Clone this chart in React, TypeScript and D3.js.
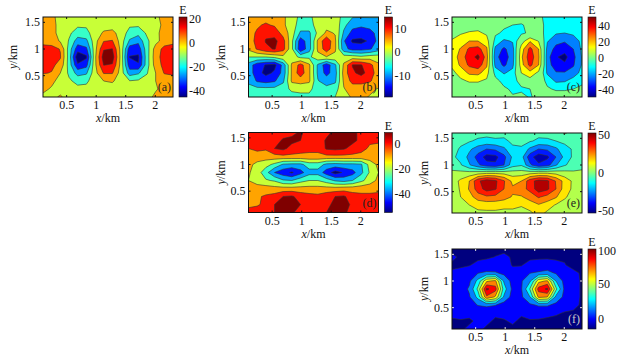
import React from 'react';
import * as d3 from 'd3';

// columns run x = 0.1 .. 2.3 km, rows run y = 1.6 .. 0.1 km (top row first)
const xTicks = [0.5, 1, 1.5, 2];
const yTicks = [0.5, 1, 1.5];

const gridA = [
  [0, -1, -6, -7, -7, -7, -7, -7, -7, -7, -7, -7, -7, -5, 0, 1],
  [1, 0, -6, -8, -10, -10, -7, -6, -6, -7, -10, -10, -8, -6, -1, 1],
  [2, 0, -6, -10, -15, -14, -7, -2, -1, -6, -15, -17, -10, -5, 0, 2],
  [3, 2, -4, -12, -24, -22, -6, 5, 6, -7, -21, -26, -13, -6, 1, 3],
  [8, 8, 5, -15, -33, -30, -6, 13, 14, -6, -33, -33, -15, 1, 8, 9],
  [9, 9, 6, -15, -43, -38, -5, 18, 18, -6, -37, -38, -15, 2, 9, 10],
  [8, 7, 3, -15, -35, -31, -5, 14, 13, -6, -33, -36, -15, 1, 8, 9],
  [6, 5, -3, -13, -23, -21, -6, 6, 6, -7, -24, -21, -12, -3, 6, 7],
  [0, -1, -6, -10, -14, -13, -7, -3, -2, -7, -11, -10, -8, -3, 0, 1],
  [-1, -4, -6, -8, -9, -9, -8, -7, -7, -7, -8, -8, -7, -4, 0, 1],
  [-5, -5, -2, -6, -7, -7, -7, -7, -7, -7, -7, -7, -6, -1, 0, 1],
];
const gridB = [
  [5, 5, 5, 5, 3, 0, -3, -3, 0, 1, 1, -4, -6, -6, -6, -6],
  [5, 6, 7, 6, 3, 0, -4, -4, 0, 1, 1, -5, -9, -10, -9, -9],
  [5, 7, 10, 9, 5, 0, -7, -7, -1, 3, 2, -7, -12, -12, -12, -9],
  [4, 8, 11, 12, 8, -1, -13, -8, 3, 10, 3, -10, -15.5, -16, -14, -9],
  [3, 7, 10, 11, 8, -1, -14, -8, 3, 9, 3, -9, -12, -12, -11, -8],
  [-2, -2, -2, -1, 1, 0, -3, -3, 1, 2, 1, 0, 0, -1, 0, 0],
  [-8, -13, -15, -16, -9, 3, 8, 3, -7, -13, -7, 3, 11, 11, 8, 3],
  [-8, -13, -16, -14, -9, 3, 9, 3, -7, -12, -8, 4, 10, 12, 9, 4],
  [-7, -11, -12, -11, -7, 3, 4, 3, -6, -8, -7, 3, 8, 8, 7, 4],
  [-5, -5, -5, -5, -4, -1, -1, -1, -4, -5, -4, 2, 4, 4, 3, 2],
  [-4, -4, -3, -4, -4, -4, -3, -3, -3, -3, -2, 0, 3, 3, 2, 1],
];
const gridC = [
  [2, 2, 2, 2, 0, -4, -4, -4, -2, -3, -5, -12, -12, -12, -12, -12],
  [2, 3, 4, 4, 1, -3, -6, -8, -9, -5, -4, -11, -12, -14, -13, -10],
  [5, 8, 10, 11, 7, -6, -10, -10, -10, -6, -3, -12, -18, -19, -16, -12],
  [10, 14, 20, 20, 14, -12, -21, -18, 3, 19, 8, -18, -26, -28, -27, -15],
  [13, 21, 32, 34, 22, -22, -31, -23, 15, 33, 20, -23, -32, -35, -29, -17],
  [14, 24, 36, 44, 25, -26, -34, -24, 18, 36, 22, -25, -38, -42, -32, -18],
  [11, 22, 32, 36, 22, -22, -31, -22, 16, 33, 20, -24, -35, -37, -30, -18],
  [6, 13, 22, 23, 14, -12, -20, -15, 9, 16, 6, -21, -28, -28, -25, -15],
  [4, 7, 10, 10, 7, -4, -12, -13, -3, 4, -3, -10, -21, -20, -14, -11],
  [2, 2, 3, 3, 1, -3, -6, -10, -10, -8, -7, -7, -9, -9, -8, -5],
  [2, 2, 2, 2, 1, -2, -3, -7, -5, -9, -5, -4, -4, -4, -3, -2],
];
const gridD = [
  [-4, -4, -4, -3, -2, -1, 2, -2, -4, -1, 3, 3, 3, -1, -3, -4],
  [-5, -5, -6, -2, 2, 3, 1, -2, -3, 2, 4, 3, 3, -1, -6, -6],
  [-7, -5, -6, 1, 3, -2, -4, -5, -5, 2, 3, 2, -2, -5, -8, -9],
  [-11, -11, -11, -10, -9, -9, -9, -9, -9, -9, -9, -9, -9, -9, -10, -11],
  [-13, -17, -20, -25, -32, -33, -33, -27, -27, -33, -34, -33, -33, -32, -20, -13],
  [-14, -19, -28, -39, -44, -48, -42, -34, -34, -43, -50, -46, -42, -33, -22, -15],
  [-15, -19, -22, -24, -30, -31, -26, -23, -23, -27, -32, -34, -31, -25, -19, -13],
  [-10, -11, -11, -12, -12, -12, -12, -12, -12, -12, -12, -11, -11, -10, -10, -10],
  [-7, -8, -6, -4, 1, 2, -2, -4, -5, -2, 1, 2, -3, -5, -5, -4],
  [-9, -8, -5, 1, 3, 3, 1, -3, -4, -1, 3, 3, 0, -4, -4, -3],
  [-4, -3, -3, 1, 3, 2, -2, -3, -3, 1, 3, 2, -1, -3, -3, -3],
];
const gridE = [
  [-5, -5, -6, -6, -7, -6, -7, -5, -5, -7, -7, -6, -5, 1, -3, -2],
  [-6, -8, -9, -12, -13, -12, -12, -8, -6, -9, -12, -12, -10, -8, -6, -5],
  [-7, -11, -18, -25, -30, -28, -22, -12, -12, -22, -30, -28, -22, -13, -9, -6],
  [-8, -13, -23, -34, -44, -43, -33, -18, -16, -36, -46, -42, -30, -17, -8, -7],
  [-4, -9, -19, -28, -36, -38, -30, -14, -11, -28, -38, -34, -21, -11, -6, -3],
  [2, 3, 4, 6, 8, 8, 7, 5, 5, 7, 9, 9, 7, 4, 2, 2],
  [5, 12, 20, 38, 46, 42, 31, 17, 20, 36, 44, 42, 29, 16, 8, 5],
  [5, 11, 21, 35, 44, 41, 30, 22, 26, 33, 46, 42, 30, 15, 8, 5],
  [5, 10, 16, 25, 28, 27, 24, 19, 19, 24, 31, 26, 21, 11, 7, 5],
  [4, 7, 10, 13, 14, 14, 13, 12, 11, 15, 19, 15, 9, 7, 5, 4],
  [3, 5, 7, 8, 8, 8, 7, 8, 6, 8, 14, 8, 6, 5, 4, 3],
];
const gridF = [
  [-5, -3, -4, -3, -4, -4, -5, -4, -4, -4, -3, -4, -4, -3, -3, -3],
  [1, -3, -4, -4, -3, -1, 2, -3, -4, -4, -3, -3, -4, -2, -4, -3],
  [-3, -3, -2, 2, 4, 1, 3, -2, -2, 3, 3, 4, 3, -1, -3, -4],
  [0, 2, 5, 11, 13, 13, 8, 2, 4, 11, 13, 15, 10, 4, 0, -2],
  [1, 4, 9, 28, 60, 65, 22, 6, 10, 22, 58, 64, 24, 7, 1, -2],
  [1, 5, 13, 40, 90, 80, 30, 8, 10, 38, 80, 90, 40, 8, 1, -2],
  [1, 4, 10, 28, 72, 60, 22, 6, 9, 24, 65, 62, 20, 8, 1, -2],
  [0, 3, 6, 12, 14, 12, 5, 3, 5, 9, 13, 13, 8, 3, 0, -2],
  [0, 2, 2, 2, 2, 1, 1, 1, 0, 2, 1, 1, 0, -2, -2, -3],
  [-2, -2, -3, 1, 1, -3, -2, 0, -3, -2, -2, -3, -4, -4, -3, -3],
  [-3, -3, 1, 1, -3, -3, -3, -3, -3, -3, -3, -3, -3, -3, -3, -3],
];

const levelsA = [-45, -36.6, -28.2, -19.8, -11.4, -3, 5.4, 13.8, 22];
const levelsB = [-19, -14.75, -10.5, -6.25, -2, 2.25, 6.5, 10.75, 15];
const levelsC = [-49, -39, -29, -19, -8, 9, 20, 30, 41, 51];
const levelsD = [-55, -47, -39, -31, -23, -15, -7, 1, 9];
const levelsE = [-50, -40, -30, -20, -10, 0, 10, 20, 30, 40, 50];
const levelsF = [-14, -1.3, 11.3, 24, 36.7, 49.3, 62, 74.7, 87.3, 100];

const barTicksA = [20, 0, -20, -40];
const barTicksB = [10, 0, -10];
const barTicksC = [40, 20, 0, -20, -40];
const barTicksD = [0, -20, -40];
const barTicksE = [50, 0, -50];
const barTicksF = [100, 50, 0];

const jet = d3.scaleLinear<string>()
  .domain([0, 0.125, 0.375, 0.625, 0.875, 1])
  .range(['#00007f', '#0000ff', '#00ffff', '#ffff00', '#ff0000', '#7f0000'])
  .clamp(true);

const font = '"Liberation Serif", serif';
const nCols = 16;
const nRows = 11;

function Panel({ id, left, top, labelX, yTitleX, grid, levels, barTicks, letter, tickColor, letterColor, colorSpan = [0, 1] }: any) {
  const width = 130;
  const height = 80;
  const right = left + width;
  const bottom = top + height;
  const xKm = d3.scaleLinear().domain([0.1, 2.3]).range([left, right]);
  const yKm = d3.scaleLinear().domain([0.1, 1.6]).range([bottom, top]);
  const colX = d3.scaleLinear().domain([0.5, nCols - 0.5]).range([left, right]);
  const rowY = d3.scaleLinear().domain([0.5, nRows - 0.5]).range([top, bottom]);
  const path = d3.geoPath(d3.geoTransform({
    point(x, y) {
      this.stream.point(colX(x), rowY(y));
    },
  }));
  const bands = d3.contours().size([nCols, nRows]).thresholds(levels.slice(0, -1))(grid.flat());
  const zMin = levels[0];
  const zMax = levels[levels.length - 1];
  const barLeft = right + 6;
  const barZ = d3.scaleLinear().domain([zMin, zMax]).range([bottom, top]);
  const stops = d3.range(0, 1.001, 0.125);
  const bandColor = d3.scaleLinear().domain([0, bands.length - 1]).range(colorSpan);

  return (
    <g fontFamily={font} fontSize={12} fill="#111">
      <defs>
        <clipPath id={'clip' + id}><rect x={left} y={top} width={width} height={height} /></clipPath>
        <linearGradient id={'bar' + id} x1="0" y1="1" x2="0" y2="0">
          {stops.map(s => <stop key={s} offset={s} stopColor={jet(s)} />)}
        </linearGradient>
      </defs>
      <g clipPath={`url(#clip${id})`}>
        {bands.map((b, i) => (
          <path
            key={i}
            d={path(b as any) || ''}
            fill={jet(bandColor(i))}
            stroke="#333"
            strokeWidth={0.6}
          />
        ))}
      </g>
      <rect x={left} y={top} width={width} height={height} fill="none" stroke="#111" strokeWidth={1} />
      {xTicks.map(d => (
        <g key={d}>
          <line x1={xKm(d)} x2={xKm(d)} y1={bottom} y2={bottom - 2} stroke={tickColor} />
          <line x1={xKm(d)} x2={xKm(d)} y1={top} y2={top + 2} stroke={tickColor} />
          <text x={xKm(d)} y={bottom + 12} textAnchor="middle">{d}</text>
        </g>
      ))}
      {yTicks.map(d => (
        <g key={d}>
          <line x1={left} x2={left + 2} y1={yKm(d)} y2={yKm(d)} stroke={tickColor} />
          <line x1={right} x2={right - 2} y1={yKm(d)} y2={yKm(d)} stroke={tickColor} />
          <text x={labelX} y={yKm(d) + 4} textAnchor="end">{d}</text>
        </g>
      ))}
      <text x={(left + right) / 2} y={bottom + 25} textAnchor="middle">
        <tspan fontStyle="italic">x</tspan>/km
      </text>
      <text transform={`translate(${yTitleX},${(top + bottom) / 2}) rotate(-90)`} textAnchor="middle">
        <tspan fontStyle="italic">y</tspan>/km
      </text>
      <text x={right - 2} y={bottom - 6} textAnchor="end" fill={letterColor}>{letter}</text>
      <rect x={barLeft} y={top} width={8} height={height} fill={`url(#bar${id})`} stroke="#111" strokeWidth={0.6} />
      {barTicks.map(d => (
        <text key={d} x={barLeft + 10} y={Math.min(Math.max(barZ(d), top + 2), bottom - 2) + 4}>{d}</text>
      ))}
      <text x={barLeft + 4} y={top - 3} textAnchor="middle">E</text>
    </g>
  );
}

export default function App() {
  return (
    <svg width={624} height={361} style={{ position: 'absolute', left: 0, top: 0, background: '#fff' }}>
      <Panel id="a" left={43} top={17} labelX={40} yTitleX={17} grid={gridA} levels={levelsA} barTicks={barTicksA} letter="(a)" tickColor="#111" letterColor="#222" />
      <Panel id="b" left={248.5} top={17} labelX={245.5} yTitleX={225} grid={gridB} levels={levelsB} barTicks={barTicksB} letter="(b)" tickColor="#111" letterColor="#222" />
      <Panel id="c" left={452} top={17} labelX={449} yTitleX={428} grid={gridC} levels={levelsC} barTicks={barTicksC} letter="(c)" tickColor="#111" letterColor="#222" />
      <Panel id="d" left={248.5} top={132.5} labelX={245.5} yTitleX={225} grid={gridD} levels={levelsD} barTicks={barTicksD} letter="(d)" tickColor="#111" letterColor="#222" />
      <Panel id="e" left={452} top={133} labelX={449} yTitleX={428} grid={gridE} levels={levelsE} barTicks={barTicksE} letter="(e)" tickColor="#111" letterColor="#222" colorSpan={[0.05, 0.95]} />
      <Panel id="f" left={452} top={249} labelX={449} yTitleX={428} grid={gridF} levels={levelsF} barTicks={barTicksF} letter="(f)" tickColor="#ddd" letterColor="#ccc" />
    </svg>
  );
}
